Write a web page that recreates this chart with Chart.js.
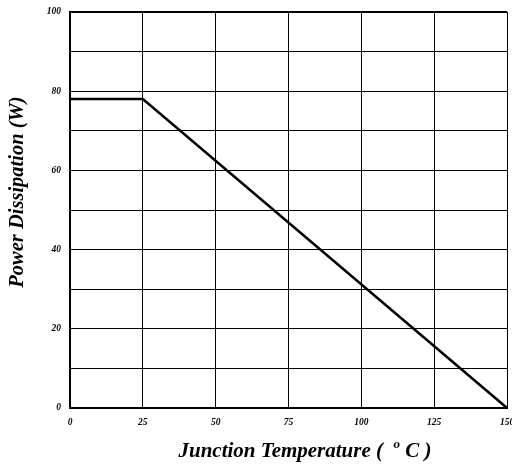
<!DOCTYPE html>
<html><head><meta charset="utf-8">
<script src="https://cdn.jsdelivr.net/npm/chart.js@4/dist/chart.umd.min.js"></script>
<style>html,body{margin:0;padding:0;background:#fff}#wrap{width:512px;height:468px}</style>
</head><body><div id="wrap"><canvas id="c" width="512" height="468"></canvas></div>
<script>
const temperatureC = [0, 25, 150];
const powerW = [78, 78, 0];
const xTicks = [0, 25, 50, 75, 100, 125, 150];
const yLabelTicks = [0, 20, 40, 60, 80, 100];
const xTitle = ['Junction Temperature (  ', 'o', ' C )'];
const yTitle = 'Power Dissipation (W)';

const font = "'Liberation Serif', 'Times New Roman', serif";
const titles = {
  id: 'titles',
  afterDraw(chart) {
    const ctx = chart.ctx;
    ctx.save();
    ctx.fillStyle = '#000';
    ctx.textBaseline = 'alphabetic';
    const big = 'italic bold 21px ' + font, small = 'italic bold 13px ' + font;
    ctx.font = big; const w1 = ctx.measureText(xTitle[0]).width; const w3 = ctx.measureText(xTitle[2]).width;
    ctx.font = small; const w2 = ctx.measureText(xTitle[1]).width;
    let x = 305 - (w1 + w2 + w3) / 2, y = 457;
    ctx.font = big; ctx.textAlign = 'left'; ctx.fillText(xTitle[0], x, y); x += w1;
    ctx.font = small; ctx.fillText(xTitle[1], x, y - 9); x += w2;
    ctx.font = big; ctx.fillText(xTitle[2], x, y);
    ctx.translate(23, 192); ctx.rotate(-Math.PI / 2);
    ctx.font = 'italic bold 20.5px ' + font; ctx.textAlign = 'center'; ctx.fillText(yTitle, 0, 0);
    ctx.restore();
  }
};

new Chart(document.getElementById('c'), {
  type: 'line',
  data: { datasets: [{ data: temperatureC.map((t, i) => ({ x: t, y: powerW[i] })),
    borderColor: '#000', borderWidth: 2.5, pointRadius: 0, tension: 0, fill: false }] },
  options: {
    responsive: false, animation: false, devicePixelRatio: 1,
    layout: { padding: { left: 0, top: 12, right: 5, bottom: 0 } },
    plugins: { legend: { display: false }, tooltip: { enabled: false } },
    scales: {
      x: { type: 'linear', min: 0, max: 150,
        afterBuildTicks: s => { s.ticks = xTicks.map(v => ({ value: v })); },
        afterFit: s => { s.height = 60; s.paddingLeft = 0; s.paddingRight = 0; },
        grid: { color: '#000', lineWidth: 1, drawTicks: false },
        border: { color: '#000', width: 2 },
        ticks: { color: '#000', padding: 9, maxRotation: 0, font: { family: font, size: 9.5, style: 'italic', weight: 'bold' } }
      },
      y: { type: 'linear', min: 0, max: 100,
        ticks: { stepSize: 10, color: '#000', padding: 9,
          callback: v => yLabelTicks.includes(v) ? String(v) : '',
          font: { family: font, size: 9.5, style: 'italic', weight: 'bold' } },
        afterFit: s => { s.width = 70; s.paddingTop = 0; s.paddingBottom = 0; },
        grid: { color: '#000', lineWidth: c => c.tick && c.tick.value === 100 ? 2 : 1, drawTicks: false },
        border: { color: '#000', width: 2 }
      }
    }
  },
  plugins: [titles]
});
</script></body></html>
